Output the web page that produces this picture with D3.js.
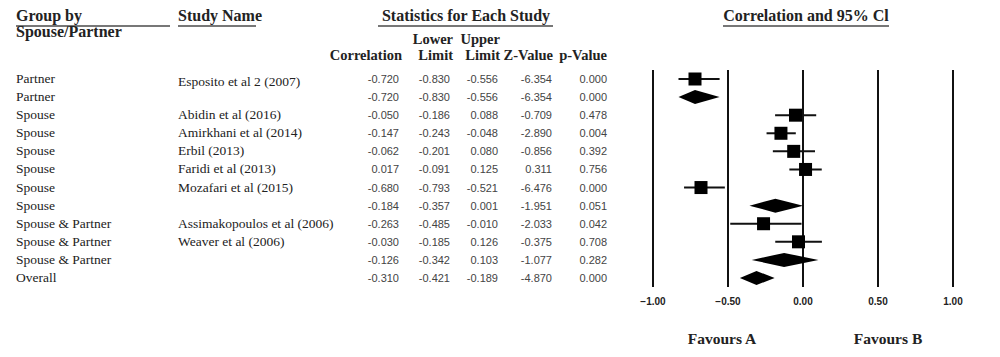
<!DOCTYPE html>
<html>
<head>
<meta charset="utf-8">
<script src="https://cdn.jsdelivr.net/npm/d3@7"></script>
<style>
  body { margin: 0; background: #fff; }
  svg { display: block; }
</style>
</head>
<body>
<div id="chart"></div>
<script>
var groups = ['Partner', 'Partner', 'Spouse', 'Spouse', 'Spouse', 'Spouse', 'Spouse', 'Spouse',
    'Spouse & Partner', 'Spouse & Partner', 'Spouse & Partner', 'Overall'];
var studies = ['Esposito et al 2 (2007)', '', 'Abidin et al (2016)', 'Amirkhani et al (2014)', 'Erbil (2013)',
    'Faridi et al (2013)', 'Mozafari et al (2015)', '', 'Assimakopoulos et al (2006)', 'Weaver et al (2006)', '', ''];
var correlation = [-0.720, -0.720, -0.050, -0.147, -0.062, 0.017, -0.680, -0.184, -0.263, -0.030, -0.126, -0.310];
var lowerLimit = [-0.830, -0.830, -0.186, -0.243, -0.201, -0.091, -0.793, -0.357, -0.485, -0.185, -0.342, -0.421];
var upperLimit = [-0.556, -0.556, 0.088, -0.048, 0.080, 0.125, -0.521, 0.001, -0.010, 0.126, 0.103, -0.189];
var zValue = [-6.354, -6.354, -0.709, -2.890, -0.856, 0.311, -6.476, -1.951, -2.033, -0.375, -1.077, -4.870];
var pValue = [0.000, 0.000, 0.478, 0.004, 0.392, 0.756, 0.000, 0.051, 0.042, 0.708, 0.282, 0.000];
var isSummary = [false, true, false, false, false, false, false, true, false, false, true, true];
var ticks = [-1, -0.5, 0, 0.5, 1];

var svg = d3.select('#chart').append('svg').attr('width', 1000).attr('height', 357);

var serif = '"Liberation Serif", serif';
var sans = '"Liberation Sans", Arial, sans-serif';
var ink = '#111';

var x = d3.scaleLinear().domain([-1, 1]).range([653, 953]);
var y = d3.scaleLinear().domain([0, groups.length - 1]).range([79, 278]);

// headers
function header(txt, xx, yy, anchor, ulFrom, ulTo) {
    svg.append('text').attr('x', xx).attr('y', yy).attr('text-anchor', anchor || 'start')
        .style('font-family', serif).style('font-weight', 'bold').style('font-size', '16px')
        .style('fill', '#222').text(txt);
    if (ulFrom != null) {
        svg.append('line').attr('x1', ulFrom).attr('x2', ulTo).attr('y1', yy + 5).attr('y2', yy + 5)
            .style('stroke', '#777').style('stroke-width', 2);
    }
}
header('Group by', 16, 21, 'start', 16, 170);
header('Spouse/Partner', 16, 37, 'start');
header('Study Name', 178, 21, 'start', 178, 256);
header('Statistics for Each Study', 466, 21, 'middle', 378, 553);
header('Correlation and 95% Cl', 806, 21, 'middle', 723, 889);

var colRight = [402, 453, 500, 553, 607];
var colTop = [null, 'Lower', 'Upper', null, null];
var colBottom = ['Correlation', 'Limit', 'Limit', 'Z-Value', 'p-Value'];
var colData = [correlation, lowerLimit, upperLimit, zValue, pValue];
var numRight = [399, 450, 498, 552, 607];

colRight.forEach(function (cx, i) {
    if (colTop[i]) {
        svg.append('text').attr('x', cx).attr('y', 44).attr('text-anchor', 'end')
            .style('font-family', serif).style('font-weight', 'bold').style('font-size', '14.5px')
            .style('fill', '#222').text(colTop[i]);
    }
    svg.append('text').attr('x', cx).attr('y', 60).attr('text-anchor', 'end')
        .style('font-family', serif).style('font-weight', 'bold').style('font-size', '14.5px')
        .style('fill', '#222').text(colBottom[i]);
});

// rows text
groups.forEach(function (g, i) {
    svg.append('text').attr('x', 16).attr('y', y(i) + 4)
        .style('font-family', serif).style('font-size', '13.5px').style('fill', '#222').text(g);
    if (studies[i]) {
        svg.append('text').attr('x', 178).attr('y', y(i) + (i == 0 ? 7 : 4))
            .style('font-family', serif).style('font-size', '13.5px').style('fill', '#222').text(studies[i]);
    }
    colData.forEach(function (arr, c) {
        svg.append('text').attr('x', numRight[c]).attr('y', y(i) + 4).attr('text-anchor', 'end')
            .style('font-family', sans).style('font-size', '11px').style('fill', '#444')
            .text(arr[i].toFixed(3));
    });
});

// vertical reference lines
svg.selectAll('line.grid').data(ticks).enter().append('line')
    .attr('class', 'grid')
    .attr('x1', function (d) { return x(d); }).attr('x2', function (d) { return x(d); })
    .attr('y1', 70).attr('y2', 287)
    .style('stroke', ink).style('stroke-width', 2);

svg.selectAll('text.tick').data(ticks).enter().append('text')
    .attr('class', 'tick')
    .attr('x', function (d) { return x(d); }).attr('y', 305).attr('text-anchor', 'middle')
    .style('font-family', sans).style('font-weight', 'bold').style('font-size', '10px').style('fill', '#222')
    .text(function (d) { return d3.format('.2f')(d); });

// study CIs and squares
var rows = d3.range(groups.length);
var studyRows = rows.filter(function (i) { return !isSummary[i]; });
var sumRows = rows.filter(function (i) { return isSummary[i]; });

svg.selectAll('line.ci').data(studyRows).enter().append('line')
    .attr('class', 'ci')
    .attr('x1', function (i) { return x(lowerLimit[i]); }).attr('x2', function (i) { return x(upperLimit[i]); })
    .attr('y1', function (i) { return y(i); }).attr('y2', function (i) { return y(i); })
    .style('stroke', ink).style('stroke-width', 2);

var sq = 13;
svg.selectAll('rect.pt').data(studyRows).enter().append('rect')
    .attr('class', 'pt')
    .attr('x', function (i) { return x(correlation[i]) - sq / 2; })
    .attr('y', function (i) { return y(i) - sq / 2; })
    .attr('width', sq).attr('height', sq)
    .style('fill', '#000');

svg.selectAll('path.dia').data(sumRows).enter().append('path')
    .attr('class', 'dia')
    .attr('d', function (i) {
        var h = 7;
        return 'M' + x(lowerLimit[i]) + ',' + y(i) + 'L' + x(correlation[i]) + ',' + (y(i) - h) +
            'L' + x(upperLimit[i]) + ',' + y(i) + 'L' + x(correlation[i]) + ',' + (y(i) + h) + 'Z';
    })
    .style('fill', '#000');

svg.append('text').attr('x', 722).attr('y', 344).attr('text-anchor', 'middle')
    .style('font-family', serif).style('font-weight', 'bold').style('font-size', '15.5px').style('fill', '#222')
    .text('Favours A');
svg.append('text').attr('x', 888).attr('y', 344).attr('text-anchor', 'middle')
    .style('font-family', serif).style('font-weight', 'bold').style('font-size', '15.5px').style('fill', '#222')
    .text('Favours B');
</script>
</body>
</html>
